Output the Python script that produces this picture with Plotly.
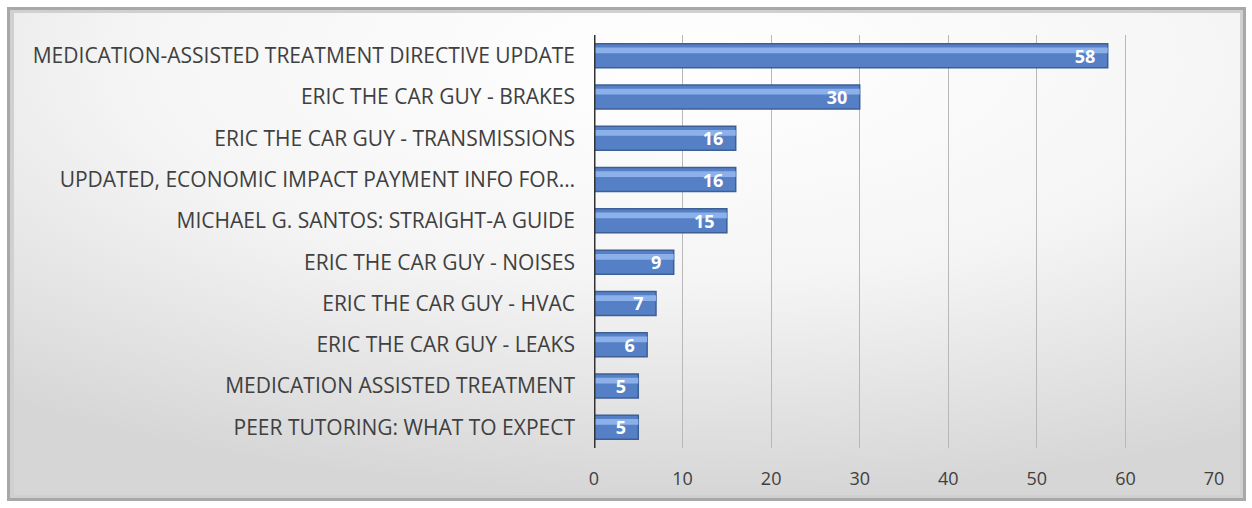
import base64
import plotly.graph_objects as go

videos = ['MEDICATION-ASSISTED TREATMENT DIRECTIVE UPDATE',
          'ERIC THE CAR GUY - BRAKES',
          'ERIC THE CAR GUY - TRANSMISSIONS',
          'UPDATED, ECONOMIC IMPACT PAYMENT INFO FOR…',
          'MICHAEL G. SANTOS: STRAIGHT-A GUIDE',
          'ERIC THE CAR GUY - NOISES',
          'ERIC THE CAR GUY - HVAC',
          'ERIC THE CAR GUY - LEAKS',
          'MEDICATION ASSISTED TREATMENT',
          'PEER TUTORING: WHAT TO EXPECT']
views = [58, 30, 16, 16, 15, 9, 7, 6, 5, 5]
ticks = [0, 10, 20, 30, 40, 50, 60, 70]

# background gradient (svg embedded as image)
svg = '''<svg xmlns="http://www.w3.org/2000/svg" width="1252" height="508">
<defs>
<radialGradient id="g" cx="0.55" cy="0.1" r="0.9">
<stop offset="0" stop-color="#ffffff"/>
<stop offset="0.5" stop-color="#f5f5f5"/>
<stop offset="1" stop-color="#d6d6d6"/>
</radialGradient>
</defs>
<rect x="0" y="0" width="1252" height="508" fill="#ffffff"/>
<rect x="7" y="7" width="1239" height="494" fill="#a8a8a8"/>
<rect x="10" y="10" width="1233" height="488" fill="#d0d0d0"/>
<rect x="14" y="13" width="1226" height="482" fill="url(#g)"/>
</svg>'''
bg = 'data:image/svg+xml;base64,' + base64.b64encode(svg.encode()).decode()

fig = go.Figure()
fig.add_trace(go.Bar(
    x=views, y=videos, orientation='h',
    marker=dict(color='#5680c6', line=dict(color='#3d5f96', width=1.5)),
    width=0.58,
    hoverinfo='skip',
))
# lighter stripe for the bevel look
fig.add_trace(go.Bar(
    x=views, y=videos, orientation='h',
    marker=dict(color='#8cb0ea', line=dict(width=0)),
    width=0.14, offset=-0.2,
    text=[f'{v}\u00a0\u00a0' for v in views], textposition='none',
    hoverinfo='skip',
))
# labels
fig.add_trace(go.Bar(
    x=views, y=videos, orientation='h',
    marker=dict(color='rgba(0,0,0,0)', line=dict(width=0)),
    width=0.58,
    text=[f'{v}\u00a0\u00a0' for v in views],
    textposition='inside', insidetextanchor='end', textangle=0,
    textfont=dict(color='white', size=18, family='Open Sans', weight='bold'),
))

fig.update_layout(
    width=1252, height=508,
    margin=dict(l=594, r=38, t=35, b=60),
    paper_bgcolor='rgba(0,0,0,0)',
    plot_bgcolor='rgba(0,0,0,0)',
    showlegend=False,
    barmode='overlay',
    uniformtext=dict(minsize=18, mode='show'),
    images=[dict(source=bg, xref='paper', yref='paper', x=-594/620, y=1+35/413,
                 sizex=1252/620, sizey=508/413, xanchor='left', yanchor='top',
                 sizing='stretch', layer='below')],
    font=dict(family='Open Sans', color='#404040'),
)
fig.update_xaxes(range=[0, 70], tickvals=ticks, showgrid=True, gridcolor='#b8b8b8',
                 gridwidth=1, zeroline=False, showline=False,
                 tickfont=dict(size=18, color='#404040'), ticks='', ticklabelstandoff=18)
fig.update_yaxes(autorange='reversed', showgrid=False, showline=False,
                 tickfont=dict(size=21, color='#404040'), ticks='', ticklabelstandoff=18)
fig.add_shape(type='line', xref='x', yref='paper', x0=0, x1=0, y0=0, y1=1,
              line=dict(color='#333333', width=3))

fig.write_html('out.html', config={'displayModeBar': False},
               post_script="document.body.style.margin='0';")
